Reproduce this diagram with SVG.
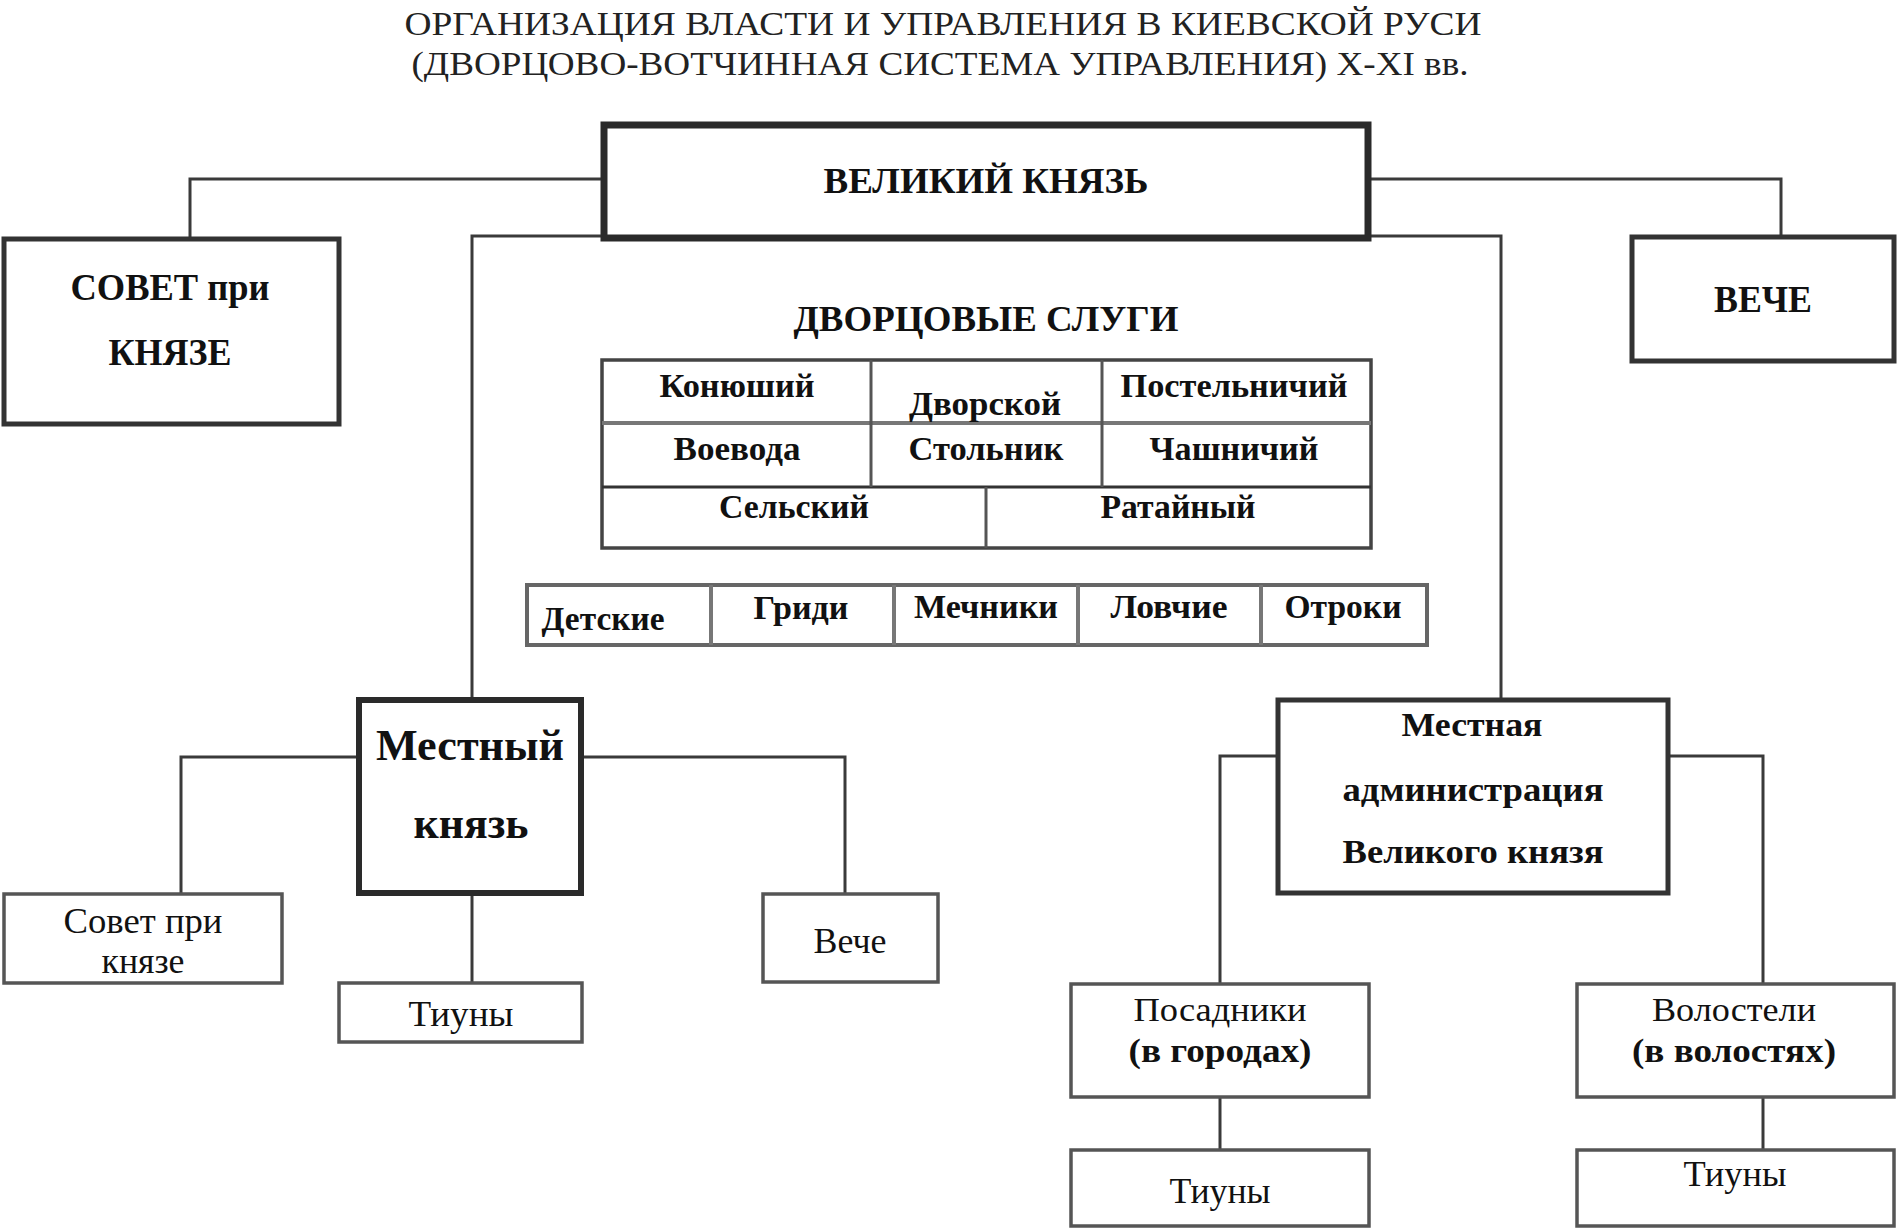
<svg xmlns="http://www.w3.org/2000/svg" width="1901" height="1229" viewBox="0 0 1901 1229">
<style>
.bg{fill:#ffffff}
.thick{fill:#ffffff;stroke:#2a2a2a;stroke-width:7}
.box{fill:#ffffff;stroke:#333333;stroke-width:5}
.thin{fill:#ffffff;stroke:#555555;stroke-width:3.5}
.tbl{fill:#ffffff;stroke:#444444;stroke-width:3.5}
.tbl2{fill:#ffffff;stroke:#666666;stroke-width:4}
.grid{fill:none;stroke:#555555;stroke-width:3}
.grid2{fill:none;stroke:#777777;stroke-width:4}
.conn{fill:none;stroke:#3a3a3a;stroke-width:3}
.t{font-family:"Liberation Serif","Times New Roman",serif;fill:#111111;text-anchor:middle}
.b{font-weight:bold}
.title{font-family:"Liberation Serif","Times New Roman",serif;fill:#222222;text-anchor:middle;font-size:33px}
</style>
<rect class="bg" x="0" y="0" width="1901" height="1229"/>

<g id="title">
<text class="title" x="943" y="35" textLength="1077" lengthAdjust="spacingAndGlyphs">ОРГАНИЗАЦИЯ ВЛАСТИ И УПРАВЛЕНИЯ В КИЕВСКОЙ РУСИ</text>
<text class="title" x="940" y="75" textLength="1057" lengthAdjust="spacingAndGlyphs">(ДВОРЦОВО-ВОТЧИННАЯ СИСТЕМА УПРАВЛЕНИЯ) X-XI вв.</text>
</g>

<g id="connectors">
<path class="conn" d="M601,179 H190 V237"/>
<path class="conn" d="M1371,179 H1781 V235"/>
<path class="conn" d="M472,698 V236 H1501 V698"/>
<path class="conn" d="M359,757 H181 V893"/>
<path class="conn" d="M583,757 H845 V893"/>
<path class="conn" d="M472,895 V982"/>
<path class="conn" d="M1276,756 H1220 V983"/>
<path class="conn" d="M1670,756 H1763 V983"/>
<path class="conn" d="M1220,1098 V1149"/>
<path class="conn" d="M1763,1098 V1149"/>
</g>

<g id="velikiy-knyaz">
<rect class="thick" x="604" y="125" width="764" height="113"/>
<text class="t b" x="986" y="193" font-size="35" textLength="325" lengthAdjust="spacingAndGlyphs">ВЕЛИКИЙ КНЯЗЬ</text>
</g>

<g id="sovet-pri-knyaze">
<rect class="box" x="4" y="239" width="335" height="185"/>
<text class="t b" x="170" y="300" font-size="37" textLength="199" lengthAdjust="spacingAndGlyphs">СОВЕТ при</text>
<text class="t b" x="170" y="365" font-size="37" textLength="123" lengthAdjust="spacingAndGlyphs">КНЯЗЕ</text>
</g>

<g id="veche">
<rect class="box" x="1632" y="237" width="262" height="124"/>
<text class="t b" x="1763" y="312" font-size="37" textLength="98" lengthAdjust="spacingAndGlyphs">ВЕЧЕ</text>
</g>

<g id="dvortsovye-slugi">
<text class="t b" x="986" y="331" font-size="36" textLength="385" lengthAdjust="spacingAndGlyphs">ДВОРЦОВЫЕ СЛУГИ</text>
<rect class="tbl" x="602" y="360" width="769" height="188"/>
<line class="grid2" x1="602" y1="423" x2="1371" y2="423"/>
<line class="grid" x1="602" y1="487" x2="1371" y2="487" style="stroke:#333333"/>
<line class="grid" x1="871" y1="360" x2="871" y2="487"/>
<line class="grid" x1="1102" y1="360" x2="1102" y2="487"/>
<line class="grid" x1="986" y1="487" x2="986" y2="548"/>
<text class="t b" x="737" y="397" font-size="34" textLength="155" lengthAdjust="spacingAndGlyphs">Конюший</text>
<text class="t b" x="985" y="415" font-size="34" textLength="152" lengthAdjust="spacingAndGlyphs">Дворской</text>
<text class="t b" x="1234" y="397" font-size="34" textLength="227" lengthAdjust="spacingAndGlyphs">Постельничий</text>
<text class="t b" x="737" y="460" font-size="34" textLength="127" lengthAdjust="spacingAndGlyphs">Воевода</text>
<text class="t b" x="986" y="460" font-size="34" textLength="155" lengthAdjust="spacingAndGlyphs">Стольник</text>
<text class="t b" x="1234" y="460" font-size="34" textLength="169" lengthAdjust="spacingAndGlyphs">Чашничий</text>
<text class="t b" x="794" y="518" font-size="34" textLength="150" lengthAdjust="spacingAndGlyphs">Сельский</text>
<text class="t b" x="1178" y="518" font-size="34" textLength="155" lengthAdjust="spacingAndGlyphs">Ратайный</text>
</g>

<g id="druzhina">
<rect class="tbl2" x="527" y="585" width="900" height="60"/>
<line class="grid2" x1="711" y1="585" x2="711" y2="645"/>
<line class="grid2" x1="894" y1="585" x2="894" y2="645"/>
<line class="grid2" x1="1078" y1="585" x2="1078" y2="645"/>
<line class="grid2" x1="1261" y1="585" x2="1261" y2="645"/>
<text class="t b" x="603" y="630" font-size="34" textLength="123" lengthAdjust="spacingAndGlyphs">Детские</text>
<text class="t b" x="801" y="619" font-size="34" textLength="95" lengthAdjust="spacingAndGlyphs">Гриди</text>
<text class="t b" x="986" y="618" font-size="34" textLength="144" lengthAdjust="spacingAndGlyphs">Мечники</text>
<text class="t b" x="1169" y="618" font-size="34" textLength="117" lengthAdjust="spacingAndGlyphs">Ловчие</text>
<text class="t b" x="1343" y="618" font-size="34" textLength="117" lengthAdjust="spacingAndGlyphs">Отроки</text>
</g>

<g id="mestnyy-knyaz">
<rect class="thick" x="359" y="700" width="222" height="193" style="stroke-width:6"/>
<text class="t b" x="470" y="760" font-size="44" textLength="188" lengthAdjust="spacingAndGlyphs">Местный</text>
<text class="t b" x="471" y="838" font-size="44" textLength="115" lengthAdjust="spacingAndGlyphs">князь</text>
</g>

<g id="sovet-pri-knyaze-mestn">
<rect class="thin" x="4" y="894" width="278" height="89"/>
<text class="t" x="143" y="933" font-size="36" textLength="159" lengthAdjust="spacingAndGlyphs">Совет при</text>
<text class="t" x="143" y="973" font-size="36" textLength="83" lengthAdjust="spacingAndGlyphs">князе</text>
</g>

<g id="tiuny-1">
<rect class="thin" x="339" y="983" width="243" height="59"/>
<text class="t" x="461" y="1026" font-size="36" textLength="105" lengthAdjust="spacingAndGlyphs">Тиуны</text>
</g>

<g id="veche-mestn">
<rect class="thin" x="763" y="894" width="175" height="88"/>
<text class="t" x="850" y="953" font-size="36" textLength="73" lengthAdjust="spacingAndGlyphs">Вече</text>
</g>

<g id="mestnaya-administratsiya">
<rect class="box" x="1278" y="700" width="390" height="193"/>
<text class="t b" x="1472" y="736" font-size="34" textLength="141" lengthAdjust="spacingAndGlyphs">Местная</text>
<text class="t b" x="1473" y="801" font-size="34" textLength="261" lengthAdjust="spacingAndGlyphs">администрация</text>
<text class="t b" x="1473" y="863" font-size="34" textLength="261" lengthAdjust="spacingAndGlyphs">Великого князя</text>
</g>

<g id="posadniki">
<rect class="thin" x="1071" y="984" width="298" height="113"/>
<text class="t" x="1220" y="1021" font-size="34" textLength="173" lengthAdjust="spacingAndGlyphs">Посадники</text>
<text class="t b" x="1220" y="1062" font-size="34" textLength="183" lengthAdjust="spacingAndGlyphs">(в городах)</text>
</g>

<g id="tiuny-2">
<rect class="thin" x="1071" y="1150" width="298" height="76"/>
<text class="t" x="1220" y="1203" font-size="36" textLength="101" lengthAdjust="spacingAndGlyphs">Тиуны</text>
</g>

<g id="volosteli">
<rect class="thin" x="1577" y="984" width="317" height="113"/>
<text class="t" x="1734" y="1021" font-size="34" textLength="164" lengthAdjust="spacingAndGlyphs">Волостели</text>
<text class="t b" x="1734" y="1062" font-size="34" textLength="204" lengthAdjust="spacingAndGlyphs">(в волостях)</text>
</g>

<g id="tiuny-3">
<rect class="thin" x="1577" y="1150" width="317" height="76"/>
<text class="t" x="1735" y="1186" font-size="36" textLength="103" lengthAdjust="spacingAndGlyphs">Тиуны</text>
</g>
</svg>
